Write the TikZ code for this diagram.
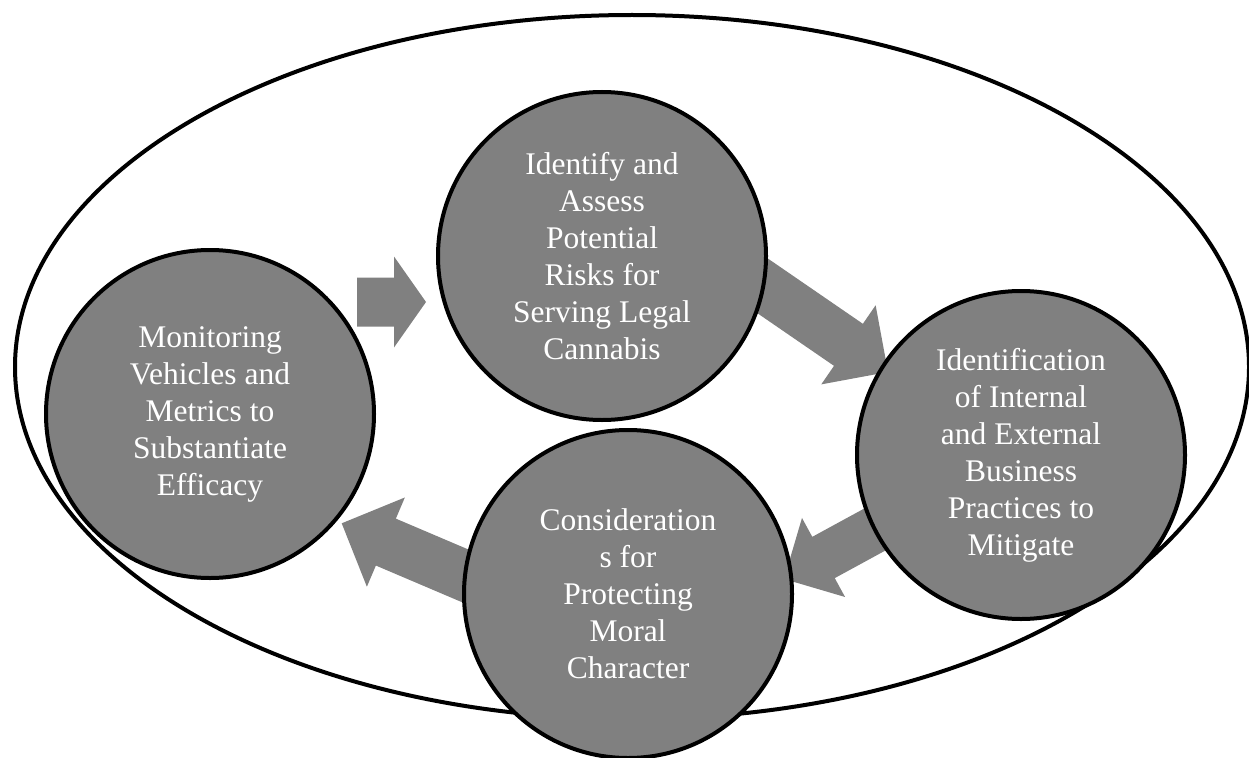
\documentclass[tikz,border=0pt]{standalone}
\usepackage{fontspec}
\setmainfont{Liberation Serif}
\usetikzlibrary{calc,backgrounds}
\definecolor{midgray}{HTML}{808080}
\tikzset{
  stage/.style={circle, draw=black, line width=4pt, fill=midgray, minimum size=328pt,
    inner sep=0pt, text=white, align=center, font=\fontsize{31.5}{37}\selectfont},
  flow/.style={fill=midgray, draw=none},
  frame/.style={draw=black, line width=4pt}
}
% block arrow: #1 start, #2 tip, #3 half shaft width, #4 half head width, #5 head length
\newcommand{\blockarr}[5]{%
  \coordinate (hb) at ($(#2)!#5!(#1)$);
  \fill[flow] ($(#1)!#3!90:(#2)$) -- ($(hb)!#3!90:(#2)$) -- ($(hb)!#4!90:(#2)$) -- (#2)
    -- ($(hb)!#4!-90:(#2)$) -- ($(hb)!#3!-90:(#2)$) -- ($(#1)!#3!-90:(#2)$) -- cycle;}
\begin{document}
\begin{tikzpicture}[x=1pt,y=-1pt]
\useasboundingbox (0,0) rectangle (1249,757);
\node[stage] (risk) at (602,256) {Identify and\\Assess\\Potential\\Risks for\\Serving Legal\\Cannabis};
\node[stage] (monitor) at (210,414) {Monitoring\\Vehicles and\\Metrics to\\Substantiate\\Efficacy};
\node[stage] (moral) at (628,594) {Consideration\\s for\\Protecting\\Moral\\Character};
\node[stage] (practice) at (1021,455) {Identification\\of Internal\\and External\\Business\\Practices to\\Mitigate};
\begin{scope}[on background layer]
  \draw[frame] (632,367) ellipse [x radius=617pt, y radius=352pt];
  \coordinate (a1s) at (357,302);   \coordinate (a1t) at (426,302);
  \coordinate (a2s) at (749,276.5); \coordinate (a2t) at (888,372);
  \coordinate (a3s) at (929,500);   \coordinate (a3t) at (784,579);
  \coordinate (a4s) at (505.5,593); \coordinate (a4t) at (341.7,523.3);
  \blockarr{a1s}{a1t}{24.5pt}{45.5pt}{32pt}
  \blockarr{a2s}{a2t}{25.5pt}{48pt}{48pt}
  \blockarr{a3s}{a3t}{23.5pt}{45pt}{45pt}
  \blockarr{a4s}{a4t}{25.5pt}{48.5pt}{48pt}
\end{scope}
\end{tikzpicture}
\end{document}
